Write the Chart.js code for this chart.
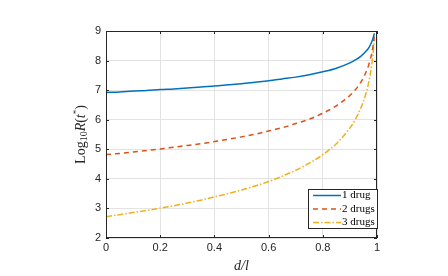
<!DOCTYPE html>
<html>
<head>
<meta charset="utf-8">
<script src="https://cdn.jsdelivr.net/npm/chart.js@4/dist/chart.umd.min.js"></script>
<style>
  html, body { margin: 0; padding: 0; background: #fff; }
  #wrap { width: 448px; height: 276px; }
</style>
</head>
<body>
<div id="wrap"><canvas id="myChart"></canvas></div>
<script>
const xValues = [0, 0.05, 0.1, 0.15, 0.2, 0.25, 0.3, 0.35, 0.4, 0.45, 0.5, 0.55, 0.6, 0.65, 0.7, 0.75, 0.8, 0.85, 0.9, 0.92, 0.94, 0.96, 0.97, 0.98, 0.985, 0.99];

const oneDrug = [6.92, 6.94, 6.97, 6.99, 7.02, 7.04, 7.07, 7.11, 7.14, 7.18, 7.22, 7.27, 7.32, 7.38, 7.44, 7.52, 7.62, 7.74, 7.92, 8.02, 8.14, 8.32, 8.44, 8.62, 8.74, 8.92];
const twoDrugs = [4.82, 4.86, 4.91, 4.96, 5.01, 5.07, 5.13, 5.19, 5.26, 5.34, 5.42, 5.51, 5.62, 5.73, 5.87, 6.02, 6.22, 6.47, 6.82, 7.01, 7.26, 7.62, 7.87, 8.22, 8.47, 8.82];
const threeDrugs = [2.72, 2.79, 2.86, 2.93, 3.01, 3.09, 3.18, 3.28, 3.39, 3.50, 3.62, 3.76, 3.91, 4.09, 4.29, 4.53, 4.82, 5.19, 5.72, 6.01, 6.39, 6.91, 7.29, 7.82, 8.19, 8.72];

const seriesLabels = ['1 drug', '2 drugs', '3 drugs'];
const xTicks = [0, 0.2, 0.4, 0.6, 0.8, 1];
const yTicks = [2, 3, 4, 5, 6, 7, 8, 9];

const toPoints = (ys) => ys.map((y, i) => ({ x: xValues[i], y: y }));

const data = {
    datasets: [{
        label: seriesLabels[0],
        data: toPoints(oneDrug),
        borderColor: '#0072BD',
        borderWidth: 1.5,
    }, {
        label: seriesLabels[1],
        data: toPoints(twoDrugs),
        borderColor: '#D95319',
        borderWidth: 1.5,
        borderDash: [5, 4],
    }, {
        label: seriesLabels[2],
        data: toPoints(threeDrugs),
        borderColor: '#EDB120',
        borderWidth: 1.5,
        borderDash: [6, 2, 1.5, 2],
    }]
};

// axes box, inner tick marks, titles and the legend, matlab style
const matlabBits = {
    id: 'matlabBits',
    afterDraw(chart) {
        const ctx = chart.ctx;
        const a = chart.chartArea;
        const xs = chart.scales.x, ys = chart.scales.y;
        ctx.save();
        ctx.strokeStyle = '#262626';
        ctx.lineWidth = 1;
        ctx.strokeRect(a.left + 0.5, a.top + 0.5, a.right - a.left - 1, a.bottom - a.top - 1);

        // tick marks pointing in
        ctx.beginPath();
        xTicks.forEach(t => {
            const px = Math.round(xs.getPixelForValue(t)) + 0.5;
            ctx.moveTo(px, a.bottom); ctx.lineTo(px, a.bottom - 3);
            ctx.moveTo(px, a.top); ctx.lineTo(px, a.top + 3);
        });
        yTicks.forEach(t => {
            const py = Math.round(ys.getPixelForValue(t)) + 0.5;
            ctx.moveTo(a.left, py); ctx.lineTo(a.left + 3, py);
            ctx.moveTo(a.right, py); ctx.lineTo(a.right - 3, py);
        });
        ctx.stroke();

        // x title
        ctx.fillStyle = '#262626';
        ctx.textBaseline = 'middle';
        ctx.textAlign = 'center';
        ctx.font = 'italic 14px "Liberation Serif"';
        ctx.fillText('d/l', (a.left + a.right) / 2, 266);

        // y title: Log10 R(t*)
        ctx.translate(81, (a.top + a.bottom) / 2);
        ctx.rotate(-Math.PI / 2);
        ctx.textAlign = 'left';
        const parts = [
            { t: 'Log', f: '14px "Liberation Serif"', dy: 0 },
            { t: '10', f: '10px "Liberation Serif"', dy: 3 },
            { t: 'R', f: 'italic 14px "Liberation Serif"', dy: 0 },
            { t: '(', f: '14px "Liberation Serif"', dy: 0 },
            { t: 't', f: 'italic 14px "Liberation Serif"', dy: 0 },
            { t: '*', f: '9px "Liberation Serif"', dy: -4 },
            { t: ')', f: '14px "Liberation Serif"', dy: 0 },
        ];
        let w = 0;
        parts.forEach(p => { ctx.font = p.f; w += ctx.measureText(p.t).width; });
        let cx = -w / 2;
        parts.forEach(p => {
            ctx.font = p.f;
            ctx.fillText(p.t, cx, p.dy);
            cx += ctx.measureText(p.t).width;
        });
        ctx.restore();

        // legend box
        ctx.save();
        const lx = 308, ly = 189, lw = 70, lh = 40;
        ctx.fillStyle = '#fff';
        ctx.fillRect(lx, ly, lw, lh);
        ctx.strokeStyle = '#262626';
        ctx.lineWidth = 1;
        ctx.strokeRect(lx + 0.5, ly + 0.5, lw - 1, lh - 1);
        ctx.font = '11px "Liberation Serif"';
        ctx.textBaseline = 'middle';
        ctx.textAlign = 'left';
        chart.data.datasets.forEach((ds, i) => {
            const y = 195.5 + i * 13.5;
            ctx.strokeStyle = ds.borderColor;
            ctx.lineWidth = ds.borderWidth;
            ctx.setLineDash(ds.borderDash || []);
            ctx.beginPath();
            ctx.moveTo(lx + 5, y);
            ctx.lineTo(lx + 33, y);
            ctx.stroke();
            ctx.setLineDash([]);
            ctx.fillStyle = '#000';
            ctx.fillText(ds.label, lx + 34, y);
        });
        ctx.restore();
    }
};

const options = {
    responsive: true,
    maintainAspectRatio: false,
    animation: false,
    layout: {
        padding: { top: 31, right: 71, left: 0, bottom: 0 }
    },
    elements: {
        point: { radius: 0 },
        line: { cubicInterpolationMode: 'monotone', fill: false }
    },
    plugins: {
        legend: { display: false },
        tooltip: { enabled: false }
    },
    scales: {
        x: {
            type: 'linear',
            min: 0,
            max: 1,
            afterFit(scale) { scale.height = 38; },
            afterBuildTicks(scale) { scale.ticks = xTicks.map(v => ({ value: v })); },
            ticks: {
                color: '#262626',
                font: { family: '"Liberation Sans"', size: 11 },
                padding: 3,
                maxRotation: 0,
                callback: (v) => String(v)
            },
            grid: { color: '#e3e3e3', drawTicks: false },
            border: { display: false }
        },
        y: {
            min: 2,
            max: 9,
            afterFit(scale) { scale.width = 106; },
            afterBuildTicks(scale) { scale.ticks = yTicks.map(v => ({ value: v })); },
            ticks: {
                color: '#262626',
                font: { family: '"Liberation Sans"', size: 11 },
                padding: 5
            },
            grid: { color: '#e3e3e3', drawTicks: false },
            border: { display: false }
        }
    }
};

const myChart = new Chart(
    document.getElementById('myChart'),
    { type: 'line', data, options, plugins: [matlabBits] }
);
</script>
</body>
</html>
